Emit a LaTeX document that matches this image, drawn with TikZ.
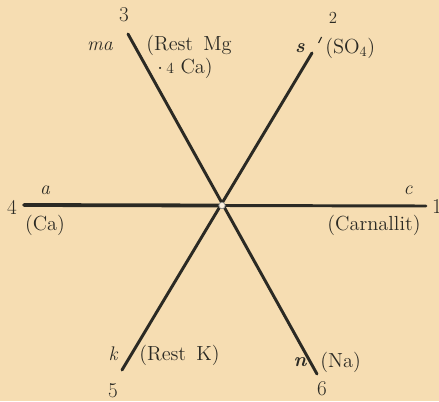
\documentclass[tikz,border=0pt]{standalone}
\usetikzlibrary{positioning, calc}
\definecolor{paper}{HTML}{F6DDB2}
\definecolor{ink}{HTML}{2B2A24}
\tikzset{
  axis/.style={draw=ink, line width=2.1pt, line cap=round},
  num/.style={text=ink, inner sep=0pt, font=\fontsize{15}{16}\selectfont},
  sym/.style={text=ink, inner sep=0pt, font=\fontsize{14}{16}\selectfont\itshape},
  bsym/.style={text=ink, inner sep=0pt, font=\fontsize{14}{16}\selectfont\bfseries\itshape},
  ion/.style={text=ink, inner sep=0pt, font=\fontsize{14.5}{16}\selectfont},
}

\begin{document}
\begin{tikzpicture}[x=0.025cm, y=-0.025cm]
\fill[paper] (0,0) rectangle (439,401);
\useasboundingbox (0,0) rectangle (439,401);

% ── Achsenenden ─────────────────────────────────────────────
\coordinate (O) at (222,205.5);
\coordinate (e1) at (426,206);
\coordinate (e2) at (312,53);
\coordinate (e3) at (128,34);
\coordinate (e4) at (24,205);
\coordinate (e5) at (122,370);
\coordinate (e6) at (317,374);
\coordinate (t2a) at (318.5,43);
\coordinate (t2b) at (321.5,37);

% ── Achsen ──────────────────────────────────────────────────
\draw[axis] (O) -- (e1);
\draw[axis, line width=2.7pt] (O) -- (e4);
\draw[axis] (e3) -- (e6);
\draw[axis] (e2) -- (e5);
\draw[draw=ink, line width=0.8pt] (t2a) -- (t2b);
\draw[draw=ink!50, line width=0.5pt, fill=paper!40!white] (O) circle (3.2);

% ── Ziffern ─────────────────────────────────────────────────
\node[num] (n1) at (437,207) {1};
\node[num, font=\fontsize{12}{14}\selectfont] (n2) at (333,18) {2};
\node[num] (n3) at (124,15) {3};
\node[num] (n4) at (12,207) {4};
\node[num] (n5) at (113,391) {5};
\node[num] (n6) at (322,389) {6};

% ── Buchstaben ──────────────────────────────────────────────
\node[sym] (sc) at (408,190) {c};
\node[bsym] (ss) at (300,48) {s};
\node[sym] (sma) at (100,46) {ma};
\node[sym] (sa) at (45,190) {a};
\node[sym] (sk) at (113,354) {k};
\node[bsym] (sn) at (300,362) {n};

% ── Salze ───────────────────────────────────────────────────
\node[ion] (car) at (374,225) {(Carnallit)};
\node[ion, anchor=west] (so4) at (325,48) {(SO$_4$)};
\node[ion, anchor=west] (mg) at (146,45) {(Rest\, Mg};
\node[ion, anchor=west] (mgca) at (157,68) {$\cdot$\,{\fontsize{11}{12}\selectfont 4} Ca)};
\node[ion] (ca) at (45,225) {(Ca)};
\node[ion, anchor=west] (rk) at (139,355) {(Rest\, K)};
\node[ion, anchor=west] (na) at (320,362) {(Na)};

\end{tikzpicture}
\end{document}
